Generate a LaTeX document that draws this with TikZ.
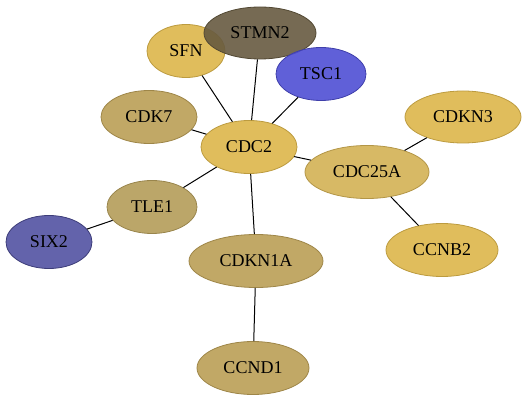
\documentclass[tikz,border=0pt]{standalone}
\usepackage{fontspec}
\setmainfont{Liberation Serif}
\usetikzlibrary{shapes.geometric}

\definecolor{goldA}{HTML}{DDB64A}
\definecolor{goldB}{HTML}{D3B154}
\definecolor{olive}{HTML}{BA9E55}
\definecolor{oliveB}{HTML}{B49C59}
\definecolor{darkolive}{HTML}{675A40}
\definecolor{blueA}{HTML}{4F4FD4}
\definecolor{blueB}{HTML}{5252A2}

\begin{document}
\begin{tikzpicture}[x=1pt, y=-1pt,
    gene/.style={ellipse, draw, line width=0.8pt, fill opacity=0.9, text opacity=1,
                 inner sep=0pt, font=\fontsize{18}{20}\selectfont},
    link/.style={black, line width=1pt}]
     \useasboundingbox (0,0) rectangle (528,403);
     % genes around CDC2
     \node[gene, fill=goldA, draw=goldA!85!black, minimum width=78pt, minimum height=53pt] (SFN) at (186,51) {SFN};
     \node[gene, fill=darkolive, draw=darkolive!80!black, minimum width=112pt, minimum height=52pt] (STMN2) at (260,33) {STMN2};
     \node[gene, fill=blueA, draw=blueA!80!black, minimum width=90pt, minimum height=53pt] (TSC1) at (321,74) {TSC1};
     \node[gene, fill=olive, draw=olive!85!black, minimum width=96pt, minimum height=53pt] (CDK7) at (149,117) {CDK7};
     \node[gene, fill=goldA, draw=goldA!85!black, minimum width=96pt, minimum height=53pt] (CDC2) at (249,147) {CDC2};
     \node[gene, fill=goldB, draw=goldB!85!black, minimum width=124pt, minimum height=53pt] (CDC25A) at (367,172) {CDC25A};
     \node[gene, fill=oliveB, draw=oliveB!85!black, minimum width=90pt, minimum height=53pt] (TLE1) at (152,207) {TLE1};
     \node[gene, fill=olive, draw=olive!85!black, minimum width=134pt, minimum height=53pt] (CDKN1A) at (256,261) {CDKN1A};
     % outer genes
     \node[gene, fill=goldA, draw=goldA!85!black, minimum width=116pt, minimum height=52pt] (CDKN3) at (463,117) {CDKN3};
     \node[gene, fill=goldA, draw=goldA!85!black, minimum width=112pt, minimum height=53pt] (CCNB2) at (442,250) {CCNB2};
     \node[gene, fill=blueB, draw=blueB!75!black, minimum width=86pt, minimum height=53pt] (SIX2) at (49,242) {SIX2};
     \node[gene, fill=olive, draw=olive!85!black, minimum width=112pt, minimum height=53pt] (CCND1) at (253,368) {CCND1};
     % interactions
     \foreach \g in {SFN,STMN2,TSC1,CDK7,CDC25A,TLE1,CDKN1A}
         \draw[link] (CDC2) -- (\g);
     \draw[link] (CDC25A) -- (CDKN3);
     \draw[link] (CDC25A) -- (CCNB2);
     \draw[link] (TLE1) -- (SIX2);
     \draw[link] (CDKN1A) -- (CCND1);
\end{tikzpicture}
\end{document}
